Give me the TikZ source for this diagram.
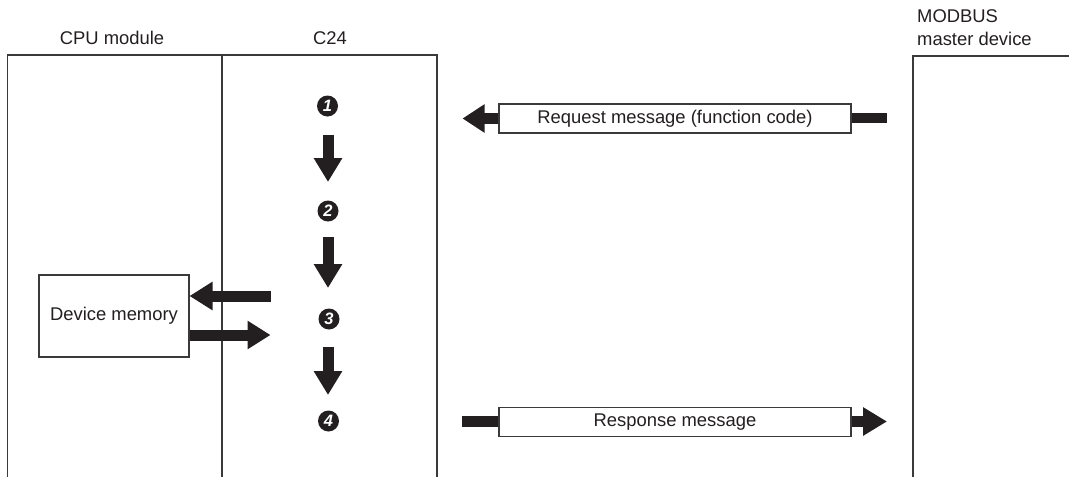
\documentclass[tikz,border=0pt]{standalone}
\usepackage{fontspec}
\setmainfont{Liberation Sans}
\usetikzlibrary{arrows.meta}
\definecolor{ink}{HTML}{231F20}
\definecolor{frame}{HTML}{3A3A3A}
\begin{document}
\begin{tikzpicture}[x=1pt,y=-1pt,
  every node/.style={font=\fontsize{18.4}{23}\selectfont, text=ink},
  lbl/.style={inner sep=0pt, anchor=base},
  framel/.style={draw=frame, line width=1.3pt},
  msgbox/.style={draw=frame, line width=1.3pt, fill=white, minimum width=352pt, minimum height=29pt, inner sep=0pt},
  stepnum/.style={circle, fill=ink, minimum size=21pt, inner sep=0pt, text=white, font=\fontsize{16.5}{16.5}\selectfont\bfseries\itshape},
  bigarrow/.style={draw=ink, line width=11pt, -{Triangle[length=24pt,width=27pt]}},
  stub/.style={draw=ink, line width=10.5pt}
]
\useasboundingbox (0,0) rectangle (1069,477);
% frames
\draw[framel] (7.5,477) -- (7.5,55) -- (437,55) -- (437,477);
\draw[framel] (222,55) -- (222,477);
\draw[framel] (913,477) -- (913,56) -- (1069,56);
% titles
\node[lbl] (cpu) at (112,44) {CPU module};
\node[lbl] (c24) at (330,44) {C24};
\node[inner sep=0pt, anchor=base west] (mb1) at (917,22) {MODBUS};
\node[inner sep=0pt, anchor=base west] (mb2) at (917,45) {master device};
% step numbers
\node[stepnum] (s1) at (327.5,106) {1};
\node[stepnum] (s2) at (328,211) {2};
\node[stepnum] (s3) at (329,319) {3};
\node[stepnum] (s4) at (328.5,421) {4};
% down arrows
\coordinate (d1a) at (328,135); \coordinate (d1b) at (328,182);
\coordinate (d2a) at (328,237); \coordinate (d2b) at (328,288);
\coordinate (d3a) at (328,347); \coordinate (d3b) at (328,395);
\draw[bigarrow] (d1a) -- (d1b);
\draw[bigarrow] (d2a) -- (d2b);
\draw[bigarrow] (d3a) -- (d3b);
% device memory
\node[draw=frame, line width=1.3pt, fill=white, minimum width=150pt, minimum height=82pt, inner sep=0pt] (dm) at (114,316) {Device memory};
\coordinate (rdA) at (271,296); \coordinate (rdB) at (189.5,296);
\coordinate (wrA) at (189.5,335); \coordinate (wrB) at (270.5,335);
\draw[bigarrow, -{Triangle[length=23pt,width=27pt]}] (rdA) -- (rdB);
\draw[bigarrow, -{Triangle[length=23pt,width=27pt]}] (wrA) -- (wrB);
% request
\node[msgbox] (req) at (675,118.5) {Request message (function code)};
\coordinate (reqTip) at (462.5,118.5);
\coordinate (reqSrc) at (887,118);
\draw[stub] (reqSrc) -- (req.east |- reqSrc);
\draw[bigarrow, -{Triangle[length=22pt,width=27pt]}] (req.west) -- (reqTip);
% response
\node[msgbox] (res) at (675,422) {Response message};
\coordinate (resSrc) at (462,421.5);
\coordinate (resTip) at (887,421.5);
\draw[stub, line width=11pt] (resSrc) -- (res.west |- resSrc);
\draw[bigarrow, -{Triangle[length=24pt,width=27pt]}] (res.east |- resTip) -- (resTip);
\end{tikzpicture}
\end{document}
